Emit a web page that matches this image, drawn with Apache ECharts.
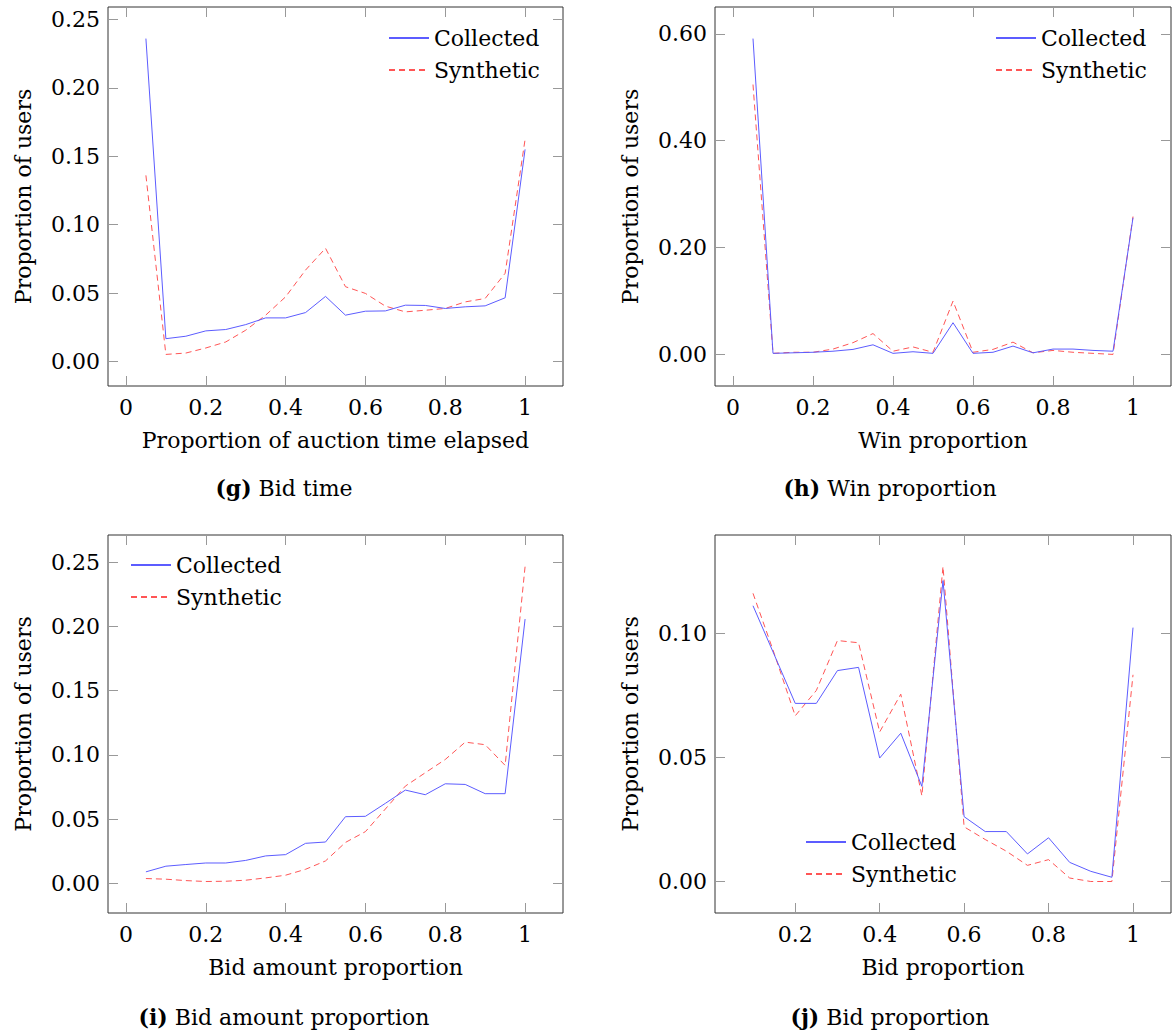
<!DOCTYPE html>
<html>
<head>
<meta charset="utf-8">
<script src="https://cdn.jsdelivr.net/npm/echarts@6/dist/echarts.min.js"></script>
<style>
html,body{margin:0;padding:0;background:#fff;}
#chart{width:1176px;height:1036px;}
</style>
</head>
<body>
<div id="chart"></div>
<script>
// ---------- DATA ----------
const xBins = [0.05,0.10,0.15,0.20,0.25,0.30,0.35,0.40,0.45,0.50,0.55,0.60,0.65,0.70,0.75,0.80,0.85,0.90,0.95,1.00];
const xBinsJ = [0.10,0.15,0.20,0.25,0.30,0.35,0.40,0.45,0.50,0.55,0.60,0.65,0.70,0.75,0.80,0.85,0.90,0.95,1.00];

// (g) Bid time
const bidTimeCollected = [0.236,0.0166,0.0184,0.0223,0.0233,0.0269,0.0318,0.0318,0.0357,0.0475,0.0338,0.0367,0.0369,0.0411,0.0409,0.0387,0.0399,0.0406,0.0465,0.155];
const bidTimeSynthetic = [0.136,0.0051,0.0061,0.0098,0.0142,0.0228,0.0338,0.0472,0.0668,0.0827,0.0546,0.0497,0.0404,0.0362,0.0374,0.0387,0.0435,0.046,0.0644,0.1623];

// (h) Win proportion
const winCollected = [0.591,0.002,0.003,0.004,0.006,0.0094,0.018,0.002,0.005,0.002,0.0593,0.002,0.004,0.0156,0.003,0.010,0.010,0.0075,0.006,0.2557];
const winSynthetic = [0.505,0.002,0.004,0.004,0.010,0.022,0.039,0.006,0.014,0.004,0.0998,0.004,0.0094,0.023,0.003,0.0075,0.004,0.002,0.000,0.258];

// (i) Bid amount proportion
const amountCollected = [0.0091,0.0135,0.0148,0.016,0.016,0.018,0.0215,0.0225,0.0313,0.0323,0.052,0.0523,0.0624,0.0727,0.0691,0.0776,0.0771,0.0699,0.0699,0.2057];
const amountSynthetic = [0.0039,0.0034,0.0023,0.0016,0.0018,0.0026,0.0044,0.0065,0.0111,0.0176,0.032,0.0404,0.058,0.0758,0.0862,0.0965,0.110,0.108,0.0919,0.2466];

// (j) Bid proportion
const bidPropCollected = [0.1111,0.0915,0.0718,0.0718,0.085,0.0863,0.0498,0.0598,0.0384,0.1212,0.0262,0.0202,0.0202,0.0112,0.0177,0.0078,0.0042,0.0018,0.1023];
const bidPropSynthetic = [0.1161,0.092,0.0668,0.077,0.0971,0.0962,0.0603,0.0755,0.0346,0.1269,0.0221,0.017,0.0123,0.0066,0.0089,0.0015,0.0001,0.0001,0.0833];

// tick values and labels
const xTicks = [0,0.2,0.4,0.6,0.8,1];
const xTickLabels = ['0','0.2','0.4','0.6','0.8','1'];
const xTicksJ = [0.2,0.4,0.6,0.8,1];
const xTickLabelsJ = ['0.2','0.4','0.6','0.8','1'];
const yTicksG = [0,0.05,0.10,0.15,0.20,0.25];
const yTickLabelsG = ['0.00','0.05','0.10','0.15','0.20','0.25'];
const yTicksH = [0,0.2,0.4,0.6];
const yTickLabelsH = ['0.00','0.20','0.40','0.60'];
const yTicksI = [0,0.05,0.10,0.15,0.20,0.25];
const yTickLabelsI = ['0.00','0.05','0.10','0.15','0.20','0.25'];
const yTicksJ = [0,0.05,0.10];
const yTickLabelsJ = ['0.00','0.05','0.10'];

const seriesNames = ['Collected','Synthetic'];
const yName = 'Proportion of users';
const xNames = ['Proportion of auction time elapsed','Win proportion','Bid amount proportion','Bid proportion'];
const captionLetters = ['(g)','(h)','(i)','(j)'];
const captionTexts = ['Bid time','Win proportion','Bid amount proportion','Bid proportion'];

// ---------- STYLE / LAYOUT ----------
const FONT = 'DejaVu Serif';
const FS = 22;
const BLUE = '#5c5cff';
const RED = '#ff5555';

const panels = [
  {grid:{left:108,top:7,width:455,height:379}, xs:xBins, c:bidTimeCollected, s:bidTimeSynthetic,
   xt:xTicks, xl:xTickLabels, yt:yTicksG, yl:yTickLabelsG, legend:{left:388,top:27}, cap:{x:284,y:488}},
  {grid:{left:715,top:7,width:456,height:379}, xs:xBins, c:winCollected, s:winSynthetic,
   xt:xTicks, xl:xTickLabels, yt:yTicksH, yl:yTickLabelsH, legend:{left:995,top:27}, cap:{x:890,y:488}},
  {grid:{left:108,top:535,width:455,height:378}, xs:xBins, c:amountCollected, s:amountSynthetic,
   xt:xTicks, xl:xTickLabels, yt:yTicksI, yl:yTickLabelsI, legend:{left:130,top:554}, cap:{x:284,y:1017}},
  {grid:{left:715,top:535,width:456,height:378}, xs:xBinsJ, c:bidPropCollected, s:bidPropSynthetic,
   xt:xTicksJ, xl:xTickLabelsJ, yt:yTicksJ, yl:yTickLabelsJ, legend:{left:805,top:831}, cap:{x:890,y:1017}}
];

function enlarge(arr){
  const mn = Math.min(...arr), mx = Math.max(...arr), r = mx - mn;
  return [mn - 0.1*r, mx + 0.1*r];
}
function labelFor(ticks, labels){
  return v => { let best=0; for(let i=0;i<ticks.length;i++){ if(Math.abs(ticks[i]-v)<Math.abs(ticks[best]-v)) best=i; } return labels[best]; };
}

const option = {grid:[], xAxis:[], yAxis:[], series:[], legend:[], graphic:[], animation:false, backgroundColor:'#fff',
  textStyle:{fontFamily:FONT}};
const tickStyle = {lineStyle:{color:'#999',width:1}};
const textStyle = {fontFamily:FONT, fontSize:FS, color:'#000'};

panels.forEach((p,k)=>{
  option.grid.push(Object.assign({show:true, borderColor:'#333', borderWidth:1, backgroundColor:'transparent'}, p.grid));
  const xr = enlarge(p.xs);
  const yr = enlarge(p.c.concat(p.s));
  const xb = option.xAxis.length, yb = option.yAxis.length;
  option.xAxis.push({
    type:'value', gridIndex:k, position:'bottom', min:xr[0], max:xr[1],
    axisLine:{show:false, onZero:false}, splitLine:{show:false},
    axisTick:Object.assign({show:true, inside:true, length:10, customValues:p.xt}, tickStyle),
    axisLabel:Object.assign({show:true, customValues:p.xt, formatter:labelFor(p.xt,p.xl), margin:10}, textStyle),
    name:xNames[k], nameLocation:'middle', nameGap:43,
    nameTextStyle:textStyle
  });
  option.xAxis.push({
    type:'value', gridIndex:k, position:'top', min:xr[0], max:xr[1],
    axisLine:{show:false, onZero:false}, splitLine:{show:false}, axisLabel:{show:false, customValues:p.xt},
    axisTick:Object.assign({show:true, inside:true, length:10, customValues:p.xt}, tickStyle)
  });
  option.yAxis.push({
    type:'value', gridIndex:k, position:'left', min:yr[0], max:yr[1],
    axisLine:{show:false, onZero:false}, splitLine:{show:false},
    axisTick:Object.assign({show:true, inside:true, length:10, customValues:p.yt}, tickStyle),
    axisLabel:Object.assign({show:true, customValues:p.yt, formatter:labelFor(p.yt,p.yl), margin:8}, textStyle),
    name:yName, nameLocation:'middle', nameGap:74, nameRotate:90,
    nameTextStyle:textStyle
  });
  option.yAxis.push({
    type:'value', gridIndex:k, position:'right', min:yr[0], max:yr[1],
    axisLine:{show:false, onZero:false}, splitLine:{show:false}, axisLabel:{show:false, customValues:p.yt},
    axisTick:Object.assign({show:true, inside:true, length:10, customValues:p.yt}, tickStyle)
  });
  option.series.push({
    name:seriesNames[0], type:'line', xAxisIndex:xb, yAxisIndex:yb, symbol:'none',
    data:p.xs.map((x,i)=>[x,p.c[i]]), lineStyle:{color:BLUE,width:1}, itemStyle:{color:BLUE}, z:3
  });
  option.series.push({
    name:seriesNames[1], type:'line', xAxisIndex:xb, yAxisIndex:yb, symbol:'none',
    data:p.xs.map((x,i)=>[x,p.s[i]]), lineStyle:{color:RED,width:1,type:[6,4]}, itemStyle:{color:RED}, z:2
  });
  option.legend.push({
    data:seriesNames, orient:'vertical', left:p.legend.left, top:p.legend.top, padding:0,
    itemWidth:40, itemHeight:14, itemGap:10, selectedMode:false,
    itemStyle:{opacity:0, borderWidth:0},
    textStyle:{fontFamily:FONT, fontSize:FS, color:'#000'}
  });
  option.graphic.push({
    type:'text', x:p.cap.x, y:p.cap.y,
    style:{
      text:'{b|'+captionLetters[k]+'} '+captionTexts[k],
      align:'center', verticalAlign:'middle',
      fontFamily:FONT, fontSize:FS, fill:'#000',
      rich:{b:{fontWeight:'bold', fontFamily:FONT, fontSize:FS, fill:'#000'}}
    }
  });
});

const chart = echarts.init(document.getElementById('chart'), null, {renderer:'svg'});
chart.setOption(option);
</script>
</body>
</html>
